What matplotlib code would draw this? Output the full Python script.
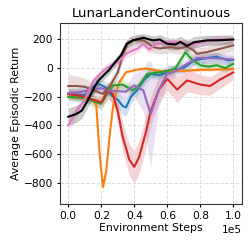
import numpy as np
import matplotlib
matplotlib.use('Agg')
import matplotlib.pyplot as plt

# environment steps (units of 1e5), mean return and band half-width
x_black = [0, .05, .083, .113, .144, .164, .184, .214, .245, .285, .32, .354, .39, .455, .515, .555, .6, .65, .68, .72, .76, .84, .92, 1.0]
y_black = [-340, -320, -296, -237, -168, -121, -86, -51, -16, 42, 90, 170, 194, 211, 194, 200, 170, 165, 183, 155, 180, 194, 195, 200]
w_black = [60, 60, 55, 50, 45, 40, 35, 30, 30, 30, 30, 30, 30, 30, 30, 35, 40, 40, 40, 40, 40, 35, 35, 30]

x_pink = [0, .05, .1, .154, .22, .26, .31, .35, .39, .42, .455, .49, .53, .6, .68, .74, .84, .92, 1.0]
y_pink = [-400, -300, -220, -86, -11, 20, 50, 100, 124, 135, 170, 130, 170, 183, 180, 160, 190, 200, 200]
w_pink = [40, 40, 30, 30, 30, 30, 30, 30, 30, 30, 30, 30, 30, 30, 30, 30, 30, 30, 30]

x_brown = [0, .05, .1, .18, .21, .25, .3, .33, .36, .4, .455, .515, .555, .62, .67, .72, .76, .78, .84, .92, 1.0]
y_brown = [-125, -125, -130, -167, -180, -130, -30, 90, 170, 195, 194, 147, 137, 147, 137, 150, 124, 100, 112, 135, 159]
w_brown = [80, 70, 60, 45, 40, 40, 40, 40, 40, 40, 40, 40, 40, 40, 40, 40, 40, 40, 40, 40, 40]

x_orange = [0, .05, .1, .15, .17, .19, .21, .23, .25, .27, .29, .31, .35, .42, .47, .55, .6, .7, .8, .9, 1.0]
y_orange = [-200, -205, -212, -220, -260, -600, -830, -720, -480, -280, -170, -98, -28, -10, -2, -20, -22, -18, -12, -10, -5]
w_orange = [15, 15, 15, 15, 20, 30, 45, 35, 25, 20, 15, 15, 10, 10, 10, 10, 10, 10, 10, 10, 10]

x_red = [0, .05, .1, .15, .2, .24, .27, .3, .33, .37, .4, .43, .47, .5, .55, .6, .66, .72, .8, .86, .92, 1.0]
y_red = [-180, -190, -200, -220, -238, -156, -180, -300, -480, -640, -690, -620, -450, -300, -150, -75, -150, -86, -115, -125, -80, -30]
w_red = [30, 30, 30, 30, 40, 60, 70, 90, 100, 110, 115, 115, 110, 100, 90, 80, 90, 80, 70, 65, 60, 50]

x_blue = [0, .1, .15, .18, .22, .27, .3, .33, .35, .38, .42, .46, .5, .55, .6, .65, .7, .76, .84, .9, .97, 1.0]
y_blue = [-180, -190, -130, -109, -130, -200, -220, -265, -275, -200, -150, -80, -40, -50, -30, -10, 0, 54, 70, 80, 54, 58]
w_blue = [40, 40, 40, 40, 40, 50, 60, 60, 60, 50, 40, 40, 30, 30, 30, 30, 30, 30, 30, 30, 30, 30]

x_green = [0, .1, .15, .2, .23, .27, .33, .39, .43, .48, .55, .6, .65, .71, .75, .8, .85, .9, .95, 1.0]
y_green = [-200, -210, -230, -250, -190, -121, -115, -156, -120, -40, -30, -20, 0, 110, 60, 20, 10, 20, 0, 30]
w_green = [30, 30, 40, 40, 40, 30, 30, 30, 30, 30, 30, 30, 30, 30, 30, 30, 30, 30, 30, 30]

x_purple = [0, .05, .1, .15, .2, .25, .29, .35, .4, .455, .48, .5, .52, .55, .6, .65, .72, .78, .88, 1.0]
y_purple = [-175, -170, -160, -150, -140, -160, -160, -165, -120, -156, -250, -320, -250, -150, -40, -20, 30, 70, 70, 60]
w_purple = [30, 30, 30, 30, 30, 30, 40, 50, 80, 150, 300, 370, 250, 120, 60, 40, 40, 40, 40, 40]

series = [
    (x_blue, y_blue, w_blue, '#1f77b4'),
    (x_orange, y_orange, w_orange, '#ff7f0e'),
    (x_green, y_green, w_green, '#2ca02c'),
    (x_red, y_red, w_red, '#d62728'),
    (x_purple, y_purple, w_purple, '#9467bd'),
    (x_brown, y_brown, w_brown, '#8c564b'),
    (x_pink, y_pink, w_pink, '#e377c2'),
    (x_black, y_black, w_black, 'black'),
]

plt.rcParams['font.family'] = ['DejaVu Sans']
fig = plt.figure(figsize=(2.5, 2.45), dpi=100)
ax = fig.add_axes([0.24, 0.167, 0.728, 0.739])

for xs, ys, ws, c in series:
    xs = np.array(xs) * 1e5
    ys = np.array(ys, dtype=float)
    ws = np.array(ws, dtype=float)
    ax.fill_between(xs, ys - ws, ys + ws, color=c, alpha=0.2, linewidth=0)
    ax.plot(xs, ys, color=c, linewidth=1.5)

ax.set_xlim(-0.05e5, 1.053e5)
ax.set_ylim(-950, 315)
ax.set_xticks([0, 0.2e5, 0.4e5, 0.6e5, 0.8e5, 1.0e5])
ax.set_yticks([-800, -600, -400, -200, 0, 200])
ax.ticklabel_format(axis='x', style='sci', scilimits=(0, 0))
ax.grid(True, linestyle='--', color='#dddddd', linewidth=0.7)
ax.tick_params(labelsize=7.7, length=2.2, pad=3)
ax.xaxis.get_offset_text().set_fontsize(7.7)
ax.set_title('LunarLanderContinuous', fontsize=9.5, pad=4)
ax.set_xlabel('Environment Steps', fontsize=7.8, labelpad=1)
ax.set_ylabel('Average Episodic Return', fontsize=7.8, labelpad=2)
for s in ax.spines.values():
    s.set_color('#333333')

fig.savefig('out.png', dpi=100)
